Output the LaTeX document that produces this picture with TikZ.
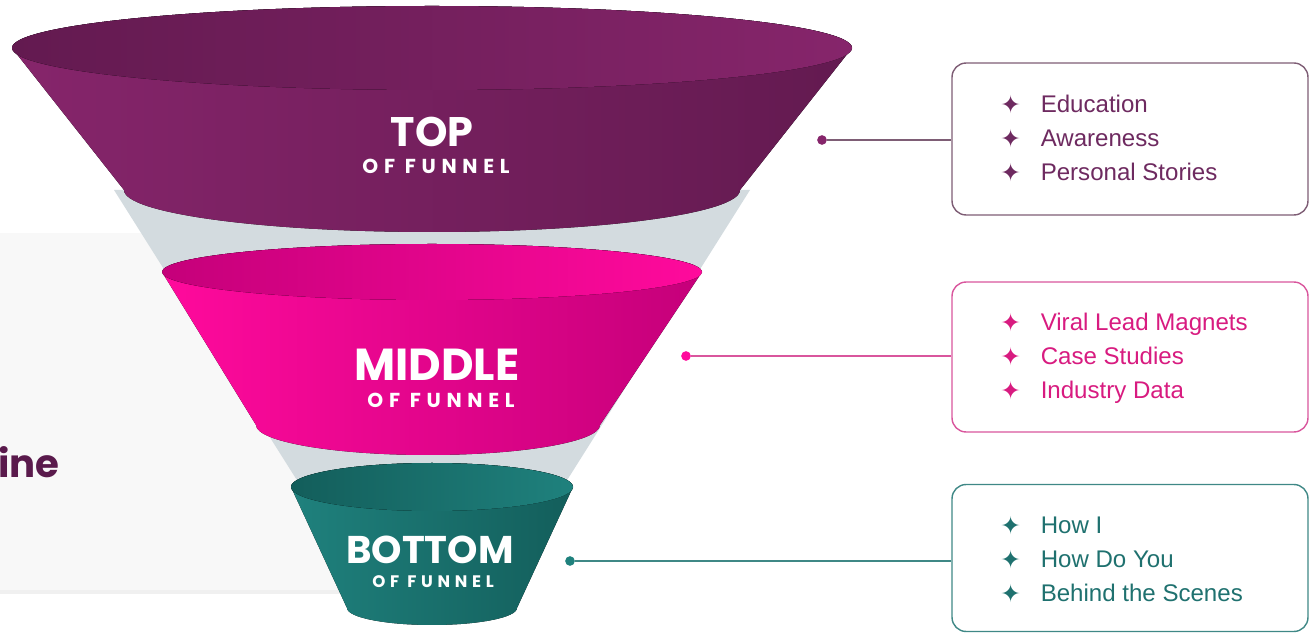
\documentclass[tikz,border=0pt]{standalone}
\usepackage{fontspec}
\setmainfont{Liberation Sans}
\newfontfamily\headfont{Poppins}
\newfontfamily\spacedfont{Poppins}[LetterSpace=28]
\newfontfamily\symfont{DejaVu Sans}
\usetikzlibrary{shadows}

\definecolor{cardgray}{HTML}{F8F8F8}
\definecolor{conegray}{HTML}{D3DBDF}
\definecolor{topA}{HTML}{86256B}
\definecolor{topB}{HTML}{631A50}
\definecolor{midA}{HTML}{FF0A9C}
\definecolor{midB}{HTML}{C5007A}
\definecolor{botA}{HTML}{1F817D}
\definecolor{botB}{HTML}{135E5B}
\definecolor{topline}{HTML}{7E5D75}
\definecolor{midline}{HTML}{D9569D}
\definecolor{botline}{HTML}{3F8886}
\definecolor{topitem}{HTML}{6E2A60}
\definecolor{miditem}{HTML}{D81B80}
\definecolor{botitem}{HTML}{1F716F}
\definecolor{inecol}{HTML}{5A1A4C}

\newcommand{\bul}{\makebox[23pt][l]{\raisebox{-0.5pt}{\symfont\fontsize{14}{14}\selectfont ✦}}}

\begin{document}
\begin{tikzpicture}[x=0.02cm, y=0.02cm,
    item/.style={anchor=base west, inner sep=0pt, font=\fontsize{13.7}{16}\selectfont},
    listbox/.style={draw, rounded corners=8pt, line width=0.8pt, minimum width=7.12cm, fill=white},
    dot/.style={circle, inner sep=0pt, minimum size=5.5pt},
    big/.style={text=white, inner sep=0pt, font=\headfont\bfseries\fontsize{23.5}{23.5}\selectfont},
    small/.style={text=white, inner sep=0pt, font=\spacedfont\bfseries\fontsize{11.5}{11.5}\selectfont}]
    \useasboundingbox (0,0) rectangle (1312,-634);

    % card behind the funnel
    \fill[cardgray, drop shadow={opacity=0.12, shadow xshift=0pt, shadow yshift=-2pt}] (-20,-233) rectangle (440,-590);
    \node[anchor=base west, inner sep=0pt, text=inecol, font=\headfont\bfseries\fontsize{22}{22}\selectfont] (ine) at (-2,-478) {ine};

    % funnel
    \fill[conegray] (114,-190) -- (305,-493) -- (559,-493) -- (750,-190) -- cycle;

    \fill[left color=topA, right color=topB] (12,-48) -- (124,-190) arc[start angle=180, end angle=360, x radius=308, y radius=42] -- (852,-48) arc[start angle=0, end angle=180, x radius=420, y radius=42] -- cycle;
    \fill[left color=topB, right color=topA] (432,-48) ellipse[x radius=420, y radius=42];

    \fill[left color=midA, right color=midB] (162,-272) -- (256,-425) arc[start angle=180, end angle=360, x radius=172, y radius=30] -- (702,-272) arc[start angle=0, end angle=180, x radius=270, y radius=28] -- cycle;
    \fill[left color=midB, right color=midA] (432,-272) ellipse[x radius=270, y radius=28];

    \fill[left color=botA, right color=botB] (291,-487) -- (347,-608) arc[start angle=180, end angle=360, x radius=85, y radius=17] -- (573,-487) arc[start angle=0, end angle=180, x radius=141, y radius=24] -- cycle;
    \fill[left color=botB, right color=botA] (432,-487) ellipse[x radius=141, y radius=24];

    \node[big] (toptitle) at (432,-132) {TOP};
    \node[small] (topsub) at (436,-166) {OF FUNNEL};
    \node[big, font=\headfont\bfseries\fontsize{25.5}{25.5}\selectfont] (midtitle) at (437,-365) {MIDDLE};
    \node[small] (midsub) at (441,-400) {OF FUNNEL};
    \node[big, font=\headfont\bfseries\fontsize{22}{22}\selectfont] (bottitle) at (430,-550) {BOTTOM};
    \node[small, font=\spacedfont\bfseries\fontsize{9.5}{9.5}\selectfont] (botsub) at (433,-582) {OF FUNNEL};

    % dots, boxes and connectors
    \node[dot, fill=topA] (d1) at (822,-140) {};
    \node[dot, fill=midA] (d2) at (686,-356) {};
    \node[dot, fill=botA] (d3) at (570,-561) {};

    \node[listbox, draw=topline, minimum height=3.04cm] (b1) at (1130,-139) {};
    \node[listbox, draw=midline, minimum height=3.0cm] (b2) at (1130,-357) {};
    \node[listbox, draw=botline, minimum height=2.94cm] (b3) at (1130,-558) {};

    \draw[topline, line width=0.7pt] (d1) -- (d1 -| b1.west);
    \draw[midline, line width=0.7pt] (d2) -- (d2 -| b2.west);
    \draw[botline, line width=0.7pt] (d3) -- (d3 -| b3.west);

    % lists
    \node[item, text=topitem] (t1) at (1000,-113) {\bul Education};
    \node[item, text=topitem] (t2) at (1000,-147) {\bul Awareness};
    \node[item, text=topitem] (t3) at (1000,-181) {\bul Personal Stories};
    \node[item, text=miditem] (m1) at (1000,-331) {\bul Viral Lead Magnets};
    \node[item, text=miditem] (m2) at (1000,-365) {\bul Case Studies};
    \node[item, text=miditem] (m3) at (1000,-399) {\bul Industry Data};
    \node[item, text=botitem] (o1) at (1000,-534) {\bul How I};
    \node[item, text=botitem] (o2) at (1000,-568) {\bul How Do You};
    \node[item, text=botitem] (o3) at (1000,-602) {\bul Behind the Scenes};
\end{tikzpicture}
\end{document}
